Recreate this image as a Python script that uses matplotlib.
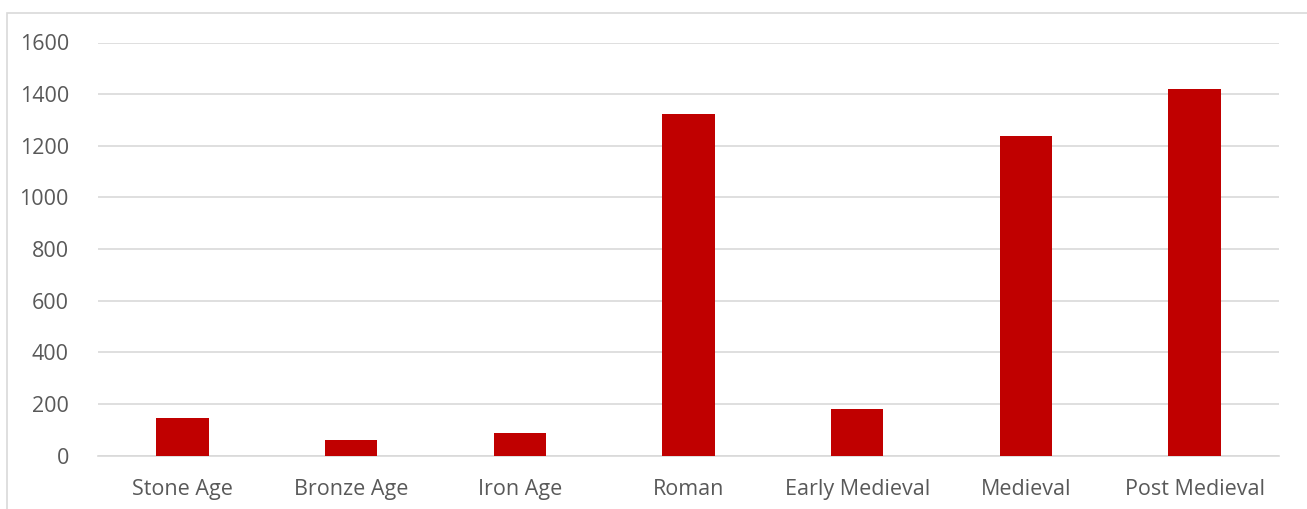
import matplotlib
matplotlib.use("Agg")
import matplotlib.pyplot as plt
from matplotlib.patches import Rectangle

categories = ["Stone Age", "Bronze Age", "Iron Age", "Roman", "Early Medieval", "Medieval", "Post Medieval"]
values = [146, 61, 87, 1322, 181, 1237, 1418]
yticks = [0, 200, 400, 600, 800, 1000, 1200, 1400, 1600]

plt.rcParams['font.family'] = ['Open Sans', 'DejaVu Sans']

W, H = 1307, 509
fig = plt.figure(figsize=(W / 100, H / 100), dpi=100)
fig.patches.append(Rectangle((6.5 / W, -0.1), 1.2, 1 - 13.5 / H + 0.1, transform=fig.transFigure,
                             fill=False, edgecolor="#D9D9D9", linewidth=1.2))
ax = fig.add_axes([98 / W, 1 - 455.5 / H, (1279 - 98) / W, (455.5 - 42.5) / H])

x = range(len(categories))
ax.bar(x, values, width=0.31, color="#C00000", zorder=3)
ax.set_xlim(-0.5, len(categories) - 0.5)
ax.set_ylim(0, 1600)
ax.set_yticks(yticks)
ax.set_yticklabels([str(t) for t in yticks])
ax.set_xticks(list(x))
ax.set_xticklabels(categories)
ax.grid(axis="y", color="#D9D9D9", linewidth=1.2, zorder=0)
for s in ["top", "right", "left"]:
    ax.spines[s].set_visible(False)
ax.spines["bottom"].set_color("#D9D9D9")
ax.spines["bottom"].set_linewidth(1.2)
ax.tick_params(axis="both", length=0, labelsize=15.5, labelcolor="#595959")
ax.tick_params(axis="y", pad=21)
ax.tick_params(axis="x", pad=17)

fig.savefig("out.png", dpi=100)
